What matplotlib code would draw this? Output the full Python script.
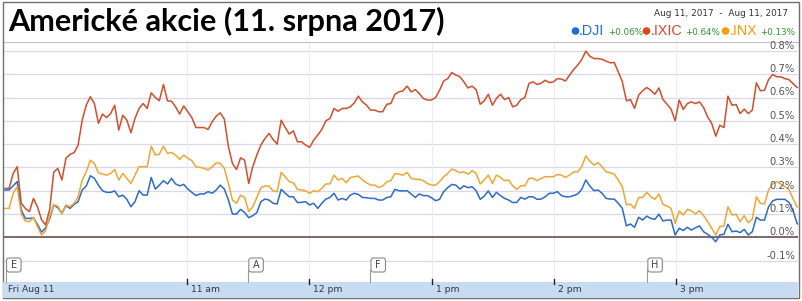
import matplotlib
matplotlib.use("Agg")
import matplotlib.pyplot as plt
import numpy as np
from matplotlib.patches import Rectangle, FancyBboxPatch, Circle
from matplotlib.transforms import blended_transform_factory, offset_copy

# % change since open, 2-minute samples from 9:30 to 16:00
ixic = [0.21, 0.21, 0.274, 0.303, 0.146, 0.124, 0.11, 0.167, 0.13, 0.075,
        0.053, 0.12, 0.28, 0.296, 0.246, 0.339, 0.356,
        0.363, 0.396, 0.503, 0.567, 0.603, 0.574, 0.489, 0.529, 0.514, 0.531,
        0.567, 0.46, 0.524, 0.503, 0.449, 0.51, 0.553, 0.574, 0.553, 0.62,
        0.6, 0.586, 0.656, 0.586, 0.584, 0.56, 0.529, 0.564, 0.539, 0.514,
        0.471, 0.471,
        0.471, 0.463, 0.496, 0.52, 0.534, 0.507, 0.389, 0.317, 0.291, 0.341,
        0.331, 0.231, 0.303, 0.353, 0.396, 0.424, 0.446, 0.42, 0.4, 0.503,
        0.471, 0.443, 0.457, 0.41, 0.41, 0.396, 0.386, 0.417, 0.439, 0.463,
        0.5, 0.51, 0.553, 0.541, 0.553, 0.553, 0.56, 0.577, 0.606, 0.581,
        0.567, 0.546, 0.546, 0.539, 0.539, 0.571, 0.574, 0.614, 0.624,
        0.629, 0.649, 0.624, 0.634, 0.617, 0.596, 0.589, 0.589, 0.6, 0.631,
        0.671, 0.681, 0.707, 0.696, 0.689, 0.667, 0.641, 0.649, 0.634, 0.571,
        0.586, 0.614, 0.567, 0.596, 0.614, 0.591, 0.6, 0.56, 0.567, 0.591,
        0.6, 0.66, 0.667, 0.656, 0.661, 0.674, 0.664, 0.667, 0.681, 0.679,
        0.671, 0.696, 0.72, 0.739, 0.763, 0.799, 0.777, 0.767, 0.767,
        0.764, 0.756, 0.749, 0.75, 0.71, 0.667, 0.586, 0.591, 0.553, 0.61,
        0.629, 0.643, 0.631, 0.614, 0.641, 0.591, 0.571, 0.55, 0.5, 0.589,
        0.549, 0.574, 0.581, 0.574, 0.581, 0.557, 0.517, 0.489, 0.434, 0.481,
        0.471, 0.606, 0.567, 0.57, 0.531, 0.55, 0.531, 0.546, 0.663, 0.629,
        0.631, 0.677, 0.699, 0.689, 0.689, 0.681, 0.677, 0.66, 0.643, 0.643]

dji = [0.203, 0.203, 0.221, 0.239, 0.117, 0.081, 0.081, 0.084, 0.055, 0.022,
       0.041, 0.08, 0.139, 0.127, 0.103, 0.136, 0.124,
       0.141, 0.153, 0.203, 0.22, 0.264, 0.253, 0.224, 0.2, 0.193, 0.193,
       0.199, 0.174, 0.181, 0.163, 0.131, 0.153, 0.2, 0.181, 0.181, 0.257,
       0.207, 0.224, 0.243, 0.229, 0.253, 0.229, 0.221, 0.227, 0.207, 0.193,
       0.179, 0.186,
       0.186, 0.196, 0.189, 0.203, 0.224, 0.207, 0.16, 0.1, 0.1, 0.12,
       0.106, 0.084, 0.093, 0.106, 0.153, 0.164, 0.16, 0.146, 0.143, 0.206,
       0.189, 0.174, 0.174, 0.149, 0.15, 0.153, 0.139, 0.146, 0.124, 0.146,
       0.164, 0.171, 0.189, 0.16, 0.167, 0.16, 0.181, 0.189, 0.184, 0.171,
       0.17, 0.167, 0.167, 0.16, 0.16, 0.171, 0.174, 0.206, 0.2,
       0.199, 0.2, 0.186, 0.171, 0.186, 0.179, 0.179, 0.17, 0.157, 0.163,
       0.196, 0.213, 0.227, 0.224, 0.207, 0.221, 0.213, 0.217, 0.2, 0.163,
       0.177, 0.199, 0.171, 0.193, 0.179, 0.167, 0.16, 0.149, 0.15, 0.171,
       0.164, 0.174, 0.174, 0.163, 0.164, 0.174, 0.189, 0.189, 0.196, 0.179,
       0.174, 0.174, 0.179, 0.186, 0.206, 0.246, 0.22, 0.2, 0.203,
       0.189, 0.167, 0.164, 0.164, 0.146, 0.124, 0.049, 0.057, 0.043, 0.086,
       0.074, 0.091, 0.081, 0.077, 0.099, 0.07, 0.074, 0.074, 0.01, 0.039,
       0.029, 0.043, 0.031, 0.041, 0.049, 0.024, 0.013, 0.0, -0.019, 0.01,
       0.013, 0.056, 0.024, 0.027, 0.02, 0.034, 0.01, 0.024, 0.086, 0.074,
       0.074, 0.131, 0.156, 0.163, 0.163, 0.163, 0.15, 0.117, 0.06, 0.045]

inx = [0.124, 0.124, 0.189, 0.217, 0.1, 0.07, 0.067, 0.086, 0.045, 0.01,
       0.028, 0.09, 0.139, 0.134, 0.1, 0.139, 0.131,
       0.146, 0.174, 0.246, 0.281, 0.331, 0.317, 0.277, 0.271, 0.267, 0.274,
       0.291, 0.246, 0.274, 0.253, 0.231, 0.267, 0.303, 0.303, 0.303, 0.391,
       0.353, 0.357, 0.391, 0.36, 0.364, 0.353, 0.334, 0.353, 0.339, 0.329,
       0.303, 0.3,
       0.296, 0.289, 0.303, 0.32, 0.317, 0.296, 0.231, 0.16, 0.146, 0.181,
       0.171, 0.11, 0.131, 0.171, 0.213, 0.22, 0.22, 0.199, 0.196, 0.279,
       0.26, 0.239, 0.234, 0.206, 0.203, 0.199, 0.189, 0.2, 0.196, 0.21,
       0.229, 0.229, 0.267, 0.246, 0.253, 0.234, 0.256, 0.26, 0.263, 0.246,
       0.234, 0.224, 0.224, 0.214, 0.22, 0.239, 0.243, 0.274, 0.271,
       0.267, 0.279, 0.253, 0.249, 0.249, 0.243, 0.231, 0.224, 0.224, 0.239,
       0.26, 0.274, 0.293, 0.286, 0.277, 0.281, 0.271, 0.286, 0.274, 0.229,
       0.246, 0.267, 0.231, 0.267, 0.257, 0.243, 0.246, 0.221, 0.206, 0.221,
       0.221, 0.253, 0.253, 0.243, 0.253, 0.26, 0.26, 0.26, 0.27, 0.267,
       0.257, 0.267, 0.281, 0.281, 0.303, 0.35, 0.327, 0.31, 0.321,
       0.303, 0.281, 0.277, 0.271, 0.246, 0.217, 0.139, 0.143, 0.124, 0.171,
       0.171, 0.193, 0.174, 0.163, 0.186, 0.141, 0.134, 0.124, 0.06, 0.113,
       0.096, 0.12, 0.114, 0.1, 0.114, 0.093, 0.067, 0.039, 0.01, 0.046,
       0.049, 0.131, 0.096, 0.099, 0.067, 0.093, 0.063, 0.079, 0.174, 0.146,
       0.143, 0.203, 0.229, 0.239, 0.229, 0.217, 0.206, 0.167, 0.131, 0.12]

names = ['.DJI', '.IXIC', '.INX']
changes = ['+0.06%', '+0.64%', '+0.13%']
line_colors = ['#2b6bcc', '#d24e2c', '#f1a633']
legend_colors = ['#1a6fdc', '#dd4422', '#ff9a00']

hour_ticks = [0, 90, 150, 210, 270, 330]   # minutes after 9:30
hour_labels = ['Fri Aug 11', '11 am', '12 pm', '1 pm', '2 pm', '3 pm']
y_ticks = [-0.1, 0.0, 0.1, 0.2, 0.3, 0.4, 0.5, 0.6, 0.7, 0.8]
events = ['E', 'A', 'F', 'H']
event_times = [1, 120, 180, 316]

W, H = 802, 301
fig = plt.figure(figsize=(W / 100, H / 100), dpi=100)

# price chart
ax = fig.add_axes([4 / W, 19 / H, 794 / W, 240 / H])
ax.set_xlim(0, 390)
ax.set_ylim(-0.1918, 0.8382)
ax.set_xticks([])
ax.set_yticks([])
for s in ax.spines.values():
    s.set_visible(False)
ax.spines['top'].set_visible(True)
ax.spines['top'].set_color('#c4c4c4')

for v in y_ticks:
    if v == 0.0:
        ax.axhline(v, color='#5b3f3f', lw=1.1, zorder=3)
    else:
        ax.axhline(v, color='#d8d8e8', lw=0.9, zorder=1)
for t in hour_ticks[1:]:
    ax.axvline(t, color='#ececf2', lw=0.8, zorder=1)

t_pts = np.linspace(0.5, 391.5, len(ixic))
for vals, c in zip([ixic, dji, inx], [line_colors[1], line_colors[0], line_colors[2]]):
    ax.plot(t_pts, vals, color=c, lw=1.1, zorder=4)

ylab_tr = blended_transform_factory(ax.transAxes, ax.transData)
for v in y_ticks:
    ax.text(0.9962, v + 0.0086, f'{v:.1f}%', transform=ylab_tr, ha='right',
            va='baseline', fontsize=7.2, color='#555555', zorder=5)

# overlay in pixel coordinates for the frame, header and time band
over = fig.add_axes([0, 0, 1, 1], zorder=5)
over.set_xlim(0, W)
over.set_ylim(H, 0)
over.axis('off')
over.patch.set_alpha(0)

over.add_patch(Rectangle((2.5, 1.5), 796.5, 296.5, fill=False, ec='#707070', lw=1.0))
over.add_patch(Rectangle((3.2, 282), 795, 15.5, color='#c7dbf3', lw=0))

def to_px(t):
    return over.transData.inverted().transform(ax.transData.transform((t, 0)))[0]

band_tr = blended_transform_factory(ax.transData, over.transData)
for t, lab in zip(hour_ticks, hour_labels):
    if t > 0:
        over.plot([t, t], [279, 283.5], color='#222222', lw=1.0, transform=band_tr)
    over.text(t, 290, lab, transform=offset_copy(band_tr, fig, x=4, units='dots'),
              ha='left', va='center', fontsize=6.6, color='#333333')

for lab, t in zip(events, event_times):
    fx = to_px(t)
    over.plot([fx, fx], [270, 282], color='#999999', lw=0.8)
    over.add_patch(FancyBboxPatch((fx + 0.5, 258), 14.5, 14,
                                  boxstyle='round,pad=0,rounding_size=2.5',
                                  fc='white', ec='#888888', lw=0.8))
    over.text(fx + 7.8, 265.3, lab, ha='center', va='center', fontsize=7,
              color='#444444')

# title and legend header
over.text(8, 21, 'Americké akcie (11. srpna 2017)', ha='left', va='center',
          fontsize=22.1, fontweight='bold', family='Lato', color='black')
over.text(788, 13, 'Aug 11, 2017  -  Aug 11, 2017', ha='right', va='center',
          fontsize=6.4, color='#333333')

dot_x = [575.5, 646.5, 725.5]
name_x = [579, 651, 730]
chg_x = [608, 685, 760]
for i in range(3):
    over.add_patch(Circle((dot_x[i], 31), 3.8, color=legend_colors[i], lw=0))
    over.text(name_x[i], 31, names[i], ha='left', va='center', fontsize=10.3,
              family='Liberation Sans', color=legend_colors[i])
    over.text(chg_x[i], 32.5, changes[i], ha='left', va='center', fontsize=6.3,
              color='#2e962e')

fig.savefig('out.png', dpi=100)
